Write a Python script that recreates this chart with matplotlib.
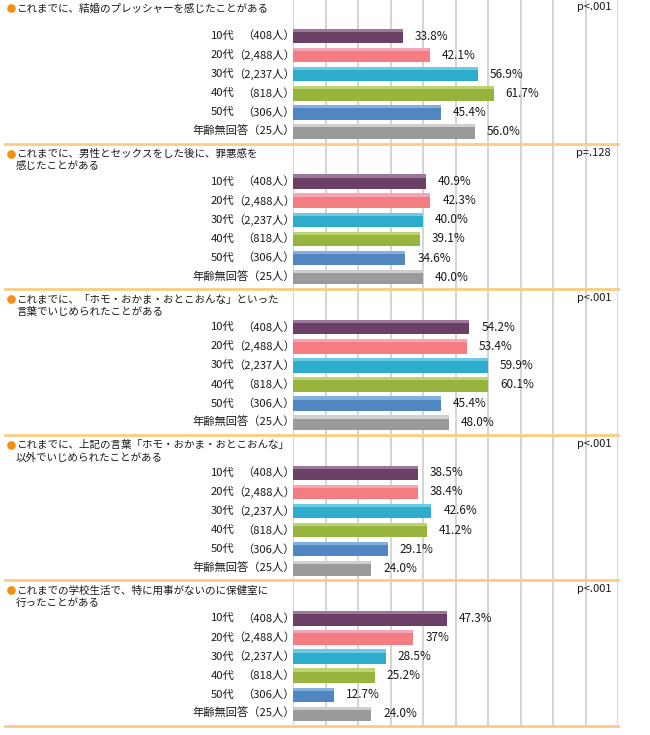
import matplotlib
matplotlib.use("Agg")
import matplotlib.pyplot as plt

plt.rcParams['font.family'] = ['Noto Sans CJK JP', 'DejaVu Sans']

# data
ages = ["10代", "20代", "30代", "40代", "50代", "年齢無回答"]
counts = ["（408人）", "（2,488人）", "（2,237人）", "（818人）", "（306人）", "（25人）"]

titles = [
    "これまでに、結婚のプレッシャーを感じたことがある",
    "これまでに、男性とセックスをした後に、罪悪感を\n感じたことがある",
    "これまでに、「ホモ・おかま・おとこおんな」といった\n言葉でいじめられたことがある",
    "これまでに、上記の言葉「ホモ・おかま・おとこおんな」\n以外でいじめられたことがある",
    "これまでの学校生活で、特に用事がないのに保健室に\n行ったことがある",
]
p_values = ["p<.001", "p=.128", "p<.001", "p<.001", "p<.001"]

# kept as text so the labels keep the original decimals ("37%")
q1 = ["33.8", "42.1", "56.9", "61.7", "45.4", "56.0"]
q2 = ["40.9", "42.3", "40.0", "39.1", "34.6", "40.0"]
q3 = ["54.2", "53.4", "59.9", "60.1", "45.4", "48.0"]
q4 = ["38.5", "38.4", "42.6", "41.2", "29.1", "24.0"]
q5 = ["47.3", "37", "28.5", "25.2", "12.7", "24.0"]
panels = [q1, q2, q3, q4, q5]

colors = ["#6c3f66", "#f37d80", "#2eaccb", "#96b43e", "#5187c0", "#9a9a9a"]
highlights = ["#9c789a", "#f6a5b8", "#6ccbe6", "#bed470", "#82b1df", "#cfcfcf"]

W, H = 650, 735
X0, X100 = 293, 618          # pixel positions of 0% and 100%
BOTTOM = 727


def px(x):
    # pixel x -> data x (percent)
    return (x - X0) / (X100 - X0) * 100


fig = plt.figure(figsize=(W / 100, H / 100), dpi=100)
ax = fig.add_axes([X0 / W, (H - BOTTOM) / H, (X100 - X0) / W, BOTTOM / H])
ax.set_xlim(0, 100)
ax.set_ylim(BOTTOM, 0)
ax.set_xticks(range(0, 101, 10))
ax.grid(axis='x', color='#d4d4d4', linewidth=1.4)
ax.set_axisbelow(True)
ax.tick_params(length=0, labelbottom=False, labelleft=False)
for s in ax.spines.values():
    s.set_visible(False)

panel_h = 145.6
step = 19.1
bar_h = 14.5
txt = '#1a1a1a'

for k, vals in enumerate(panels):
    top = k * panel_h
    nums = [float(v) for v in vals]
    ys = [top + 36 + i * step for i in range(len(nums))]

    ax.barh(ys, nums, height=bar_h, color=colors, zorder=2)
    ax.barh([y - bar_h / 2 + 1.6 for y in ys], nums, height=3.2,
            color=highlights, zorder=3)

    for i, (y, v, lab) in enumerate(zip(ys, nums, vals)):
        ax.text(v + 3.7, y, lab + "%", va='center', ha='left',
                fontsize=8.5, color=txt)
        if i < 5:
            ax.text(px(211), y, ages[i], va='center', ha='left',
                    fontsize=8.1, color=txt, clip_on=False)
            ax.text(px(295), y, counts[i], va='center', ha='right',
                    fontsize=8.1, color=txt, clip_on=False)
        else:
            ax.text(px(295), y, ages[i] + counts[i], va='center', ha='right',
                    fontsize=8.1, color=txt, clip_on=False)

    # title with orange bullet
    ax.plot([px(10.5)], [top + 8], marker='o', markersize=5.2,
            color='#f5900f', clip_on=False, zorder=4)
    for j, line in enumerate(titles[k].split("\n")):
        ax.text(px(16), top + 8.5 + j * 12, line, va='center', ha='left',
                fontsize=7.6, color=txt, clip_on=False)
    ax.text(px(611), top + 7, p_values[k], va='center', ha='right',
            fontsize=8, color=txt)

    # orange separator below each panel
    ax.plot([px(5), 100], [top + 143.5, top + 143.5], color='#f9cd85',
            linewidth=2, clip_on=False, zorder=4)

fig.savefig("out.png", dpi=100)
